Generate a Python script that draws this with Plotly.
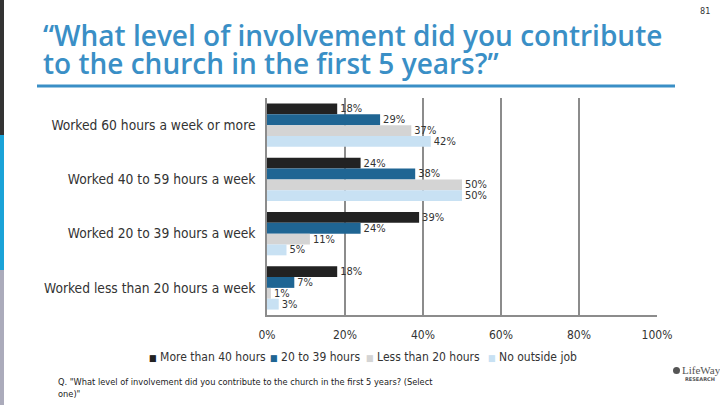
import plotly.graph_objects as go

categories = ["Worked 60 hours a week or more", "Worked 40 to 59 hours a week",
              "Worked 20 to 39 hours a week", "Worked less than 20 hours a week"]
series_names = ["More than 40 hours", "20 to 39 hours", "Less than 20 hours", "No outside job"]
more_than_40 = [18, 24, 39, 18]
h20_to_39 = [29, 38, 24, 7]
less_than_20 = [37, 50, 11, 1]
no_outside_job = [42, 50, 5, 3]
colors = ["#222222", "#1f6593", "#d4d4d4", "#c8e1f3"]
x_ticks = [0, 20, 40, 60, 80, 100]

W, H = 720, 405
L, R, T, B = 267, 63, 98, 90
pw, ph = W - L - R, H - T - B

def px(x):
    return (x - L) / pw

def py(y):
    return (H - B - y) / ph

fig = go.Figure()
for name, vals, c in zip(series_names, [more_than_40, h20_to_39, less_than_20, no_outside_job], colors):
    fig.add_trace(go.Bar(
        y=categories, x=vals, name=name, orientation="h",
        marker=dict(color=c, line=dict(width=0)),
        text=[f"{v}%" for v in vals], textposition="outside", constraintext="none",
        textfont=dict(size=11, color="#333333", family="DejaVu Sans Condensed"),
        cliponaxis=False, showlegend=False,
    ))

shapes = [
    dict(type="rect", xref="paper", yref="paper", x0=px(0), x1=px(4), y0=py(0), y1=py(135),
         fillcolor="#333333", line=dict(width=0), layer="above"),
    dict(type="rect", xref="paper", yref="paper", x0=px(0), x1=px(4), y0=py(135), y1=py(270),
         fillcolor="#1aa3d8", line=dict(width=0), layer="above"),
    dict(type="rect", xref="paper", yref="paper", x0=px(0), x1=px(4), y0=py(270), y1=py(405),
         fillcolor="#ababbb", line=dict(width=0), layer="above"),
    dict(type="line", xref="paper", yref="paper", x0=px(37), x1=px(675), y0=py(86), y1=py(86),
         line=dict(color="#3a8fc6", width=3)),
    dict(type="circle", xref="paper", yref="paper", x0=px(673), x1=px(680), y0=py(367), y1=py(374),
         fillcolor="#555555", line=dict(width=0)),
]

title_font = dict(size=28, color="#3a8fc6", family="Open Sans", weight=600)
annotations = [
    dict(text="“What level of involvement did you contribute", xref="paper", yref="paper",
         x=px(41), y=py(35), xanchor="left", yanchor="middle", showarrow=False, font=title_font),
    dict(text="to the church in the first 5 years?”", xref="paper", yref="paper",
         x=px(41), y=py(63), xanchor="left", yanchor="middle", showarrow=False, font=title_font),
    dict(text="81", xref="paper", yref="paper", x=px(712), y=py(11), xanchor="right", yanchor="middle",
         showarrow=False, font=dict(size=9, color="#333333", family="DejaVu Sans Condensed")),
    dict(text="Q. \"What level of involvement did you contribute to the church in the first 5 years? (Select<br>one)\"",
         xref="paper", yref="paper", x=px(56), y=py(374), xanchor="left", yanchor="top",
         align="left", showarrow=False,
         font=dict(size=9.2, color="#222222", family="DejaVu Sans Condensed")),
    dict(text="LifeWay", xref="paper", yref="paper", x=px(680), y=py(370), xanchor="left", yanchor="middle",
         showarrow=False, font=dict(size=11, color="#555555", family="Liberation Serif")),
    dict(text="<b>RESEARCH</b>", xref="paper", yref="paper", x=px(683), y=py(379), xanchor="left", yanchor="middle",
         showarrow=False, font=dict(size=5, color="#555555", family="DejaVu Sans")),
]

# legend built as text entries with coloured squares
legend_x = [147, 268, 364, 486]
for name, c, lx in zip(series_names, colors, legend_x):
    annotations.append(dict(
        text=f"<span style='color:{c};font-size:9px'>■</span> {name}", xref="paper", yref="paper",
        x=px(lx), y=py(357), xanchor="left", yanchor="middle", showarrow=False,
        font=dict(size=12, color="#333333", family="DejaVu Sans Condensed")))

fig.update_layout(
    width=W, height=H,
    margin=dict(l=L, r=R, t=T, b=B),
    paper_bgcolor="white", plot_bgcolor="white",
    barmode="group", bargap=0.2, bargroupgap=0,
    font=dict(family="DejaVu Sans Condensed", color="#333333"),
    showlegend=False,
    xaxis=dict(range=[0, 100], tickvals=x_ticks, ticktext=[f"{t}%" for t in x_ticks],
               showgrid=True, gridcolor="#8c8c8c", gridwidth=1.5,
               zeroline=False, showline=True, linecolor="#8c8c8c", linewidth=1.5,
               tickfont=dict(size=12, color="#333333"), ticks="", ticklabelstandoff=8),
    yaxis=dict(autorange="reversed", showgrid=False, zeroline=False,
               showline=True, linecolor="#8c8c8c", linewidth=1.5,
               tickfont=dict(size=13.7, color="#333333"), ticks="", ticklabelstandoff=7),
    shapes=shapes, annotations=annotations,
)

fig.write_html("out.html", config={"displayModeBar": False},
               post_script="document.body.style.margin='0px';document.body.style.padding='0px';")
